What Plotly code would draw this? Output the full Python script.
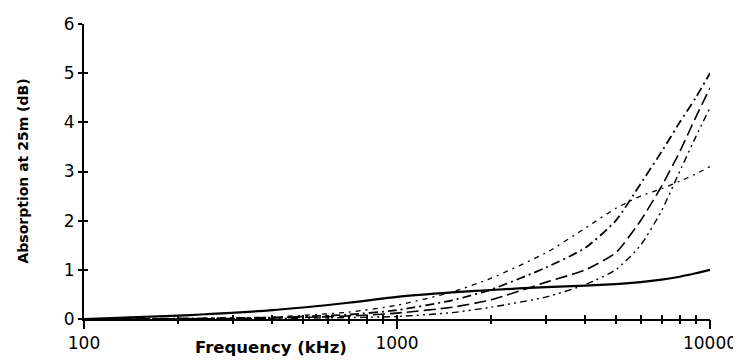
import plotly.graph_objects as go

# frequency grid (kHz)
freq = [100, 200, 400, 700, 1000, 1500, 2000, 3000, 4000, 5000, 6000, 7000, 8000, 9000, 10000]

# absorption at 25 m (dB)
solid = [0.0, 0.07, 0.18, 0.33, 0.45, 0.54, 0.59, 0.65, 0.68, 0.71, 0.75, 0.80, 0.86, 0.93, 1.0]
curve_a = [0.0, 0.01, 0.04, 0.14, 0.28, 0.55, 0.83, 1.35, 1.85, 2.25, 2.5, 2.65, 2.8, 2.95, 3.1]
curve_b = [0.0, 0.01, 0.03, 0.09, 0.18, 0.38, 0.6, 1.05, 1.45, 2.0, 2.75, 3.4, 4.0, 4.5, 5.0]
curve_c = [0.0, 0.0, 0.02, 0.06, 0.12, 0.24, 0.39, 0.75, 1.0, 1.35, 2.0, 2.7, 3.4, 4.1, 4.7]
curve_d = [0.0, 0.0, 0.01, 0.03, 0.05, 0.13, 0.24, 0.45, 0.7, 1.0, 1.5, 2.2, 3.0, 3.7, 4.3]

x_major = [100, 1000, 10000]
x_minor = [200, 300, 400, 500, 600, 700, 800, 900,
           2000, 3000, 4000, 5000, 6000, 7000, 8000, 9000]
y_ticks = [0, 1, 2, 3, 4, 5, 6]

series = [
    (solid, "solid", 2.2),
    (curve_a, "5px,5px,2px,5px", 1.3),
    (curve_b, "9px,4px,2px,4px", 1.8),
    (curve_c, "12px,5px", 1.6),
    (curve_d, "7px,4px,2px,4px,2px,4px", 1.4),
]

fig = go.Figure()
for ys, dash, width in series:
    fig.add_trace(
        go.Scatter(
            x=freq,
            y=ys,
            mode="lines",
            line=dict(color="black", width=width, dash=dash, shape="spline", smoothing=0.6),
            showlegend=False,
            hoverinfo="skip",
        )
    )

axis_common = dict(showgrid=False, zeroline=False, automargin=False)
minor_tick = dict(tickwidth=1.5, tickcolor="black", showticklabels=False, ticklen=4)

# the page body adds an 8px margin, so the figure is sized 8px smaller
fig.update_layout(
    width=733,
    height=354,
    margin=dict(l=76, r=31, t=16, b=43, autoexpand=False),
    plot_bgcolor="white",
    paper_bgcolor="white",
    font=dict(family="DejaVu Sans, Verdana, sans-serif", size=17, color="black"),
    xaxis=dict(
        type="log",
        range=[2, 4],
        tickvals=x_major,
        ticktext=[str(v) for v in x_major],
        ticks="outside",
        ticklen=8,
        tickwidth=2,
        tickcolor="black",
        showline=True,
        linewidth=2,
        linecolor="black",
        **axis_common,
    ),
    xaxis2=dict(type="log", range=[2, 4], overlaying="x", tickvals=x_minor + x_major,
                ticks="outside", **minor_tick, **axis_common),
    xaxis3=dict(type="log", range=[2, 4], overlaying="x", tickvals=x_minor + x_major,
                ticks="inside", **minor_tick, **axis_common),
    yaxis=dict(
        range=[0, 6],
        tickvals=y_ticks,
        ticks="outside",
        ticklen=4,
        tickwidth=1.5,
        tickcolor="black",
        showline=True,
        linewidth=2,
        linecolor="black",
        **axis_common,
    ),
    yaxis2=dict(range=[0, 6], overlaying="y", tickvals=y_ticks,
                ticks="inside", **minor_tick, **axis_common),
    annotations=[
        dict(
            text="<b>Frequency (kHz)</b>",
            xref="paper", yref="paper",
            x=0.299, y=-0.098,
            xanchor="center", yanchor="middle",
            showarrow=False,
            font=dict(size=16.5),
        ),
        dict(
            text="<b>Absorption at 25m (dB)</b>",
            xref="paper", yref="paper",
            x=-0.099, y=0.5,
            xanchor="center", yanchor="middle",
            textangle=-90,
            showarrow=False,
            font=dict(size=14),
        ),
    ],
)

# invisible anchor traces so the overlay axes are drawn
fig.add_trace(go.Scatter(x=[100], y=[0], xaxis="x2", yaxis="y2", mode="markers",
                         marker=dict(opacity=0), showlegend=False, hoverinfo="skip"))
fig.add_trace(go.Scatter(x=[100], y=[0], xaxis="x3", yaxis="y2", mode="markers",
                         marker=dict(opacity=0), showlegend=False, hoverinfo="skip"))

fig.write_html("out.html")
